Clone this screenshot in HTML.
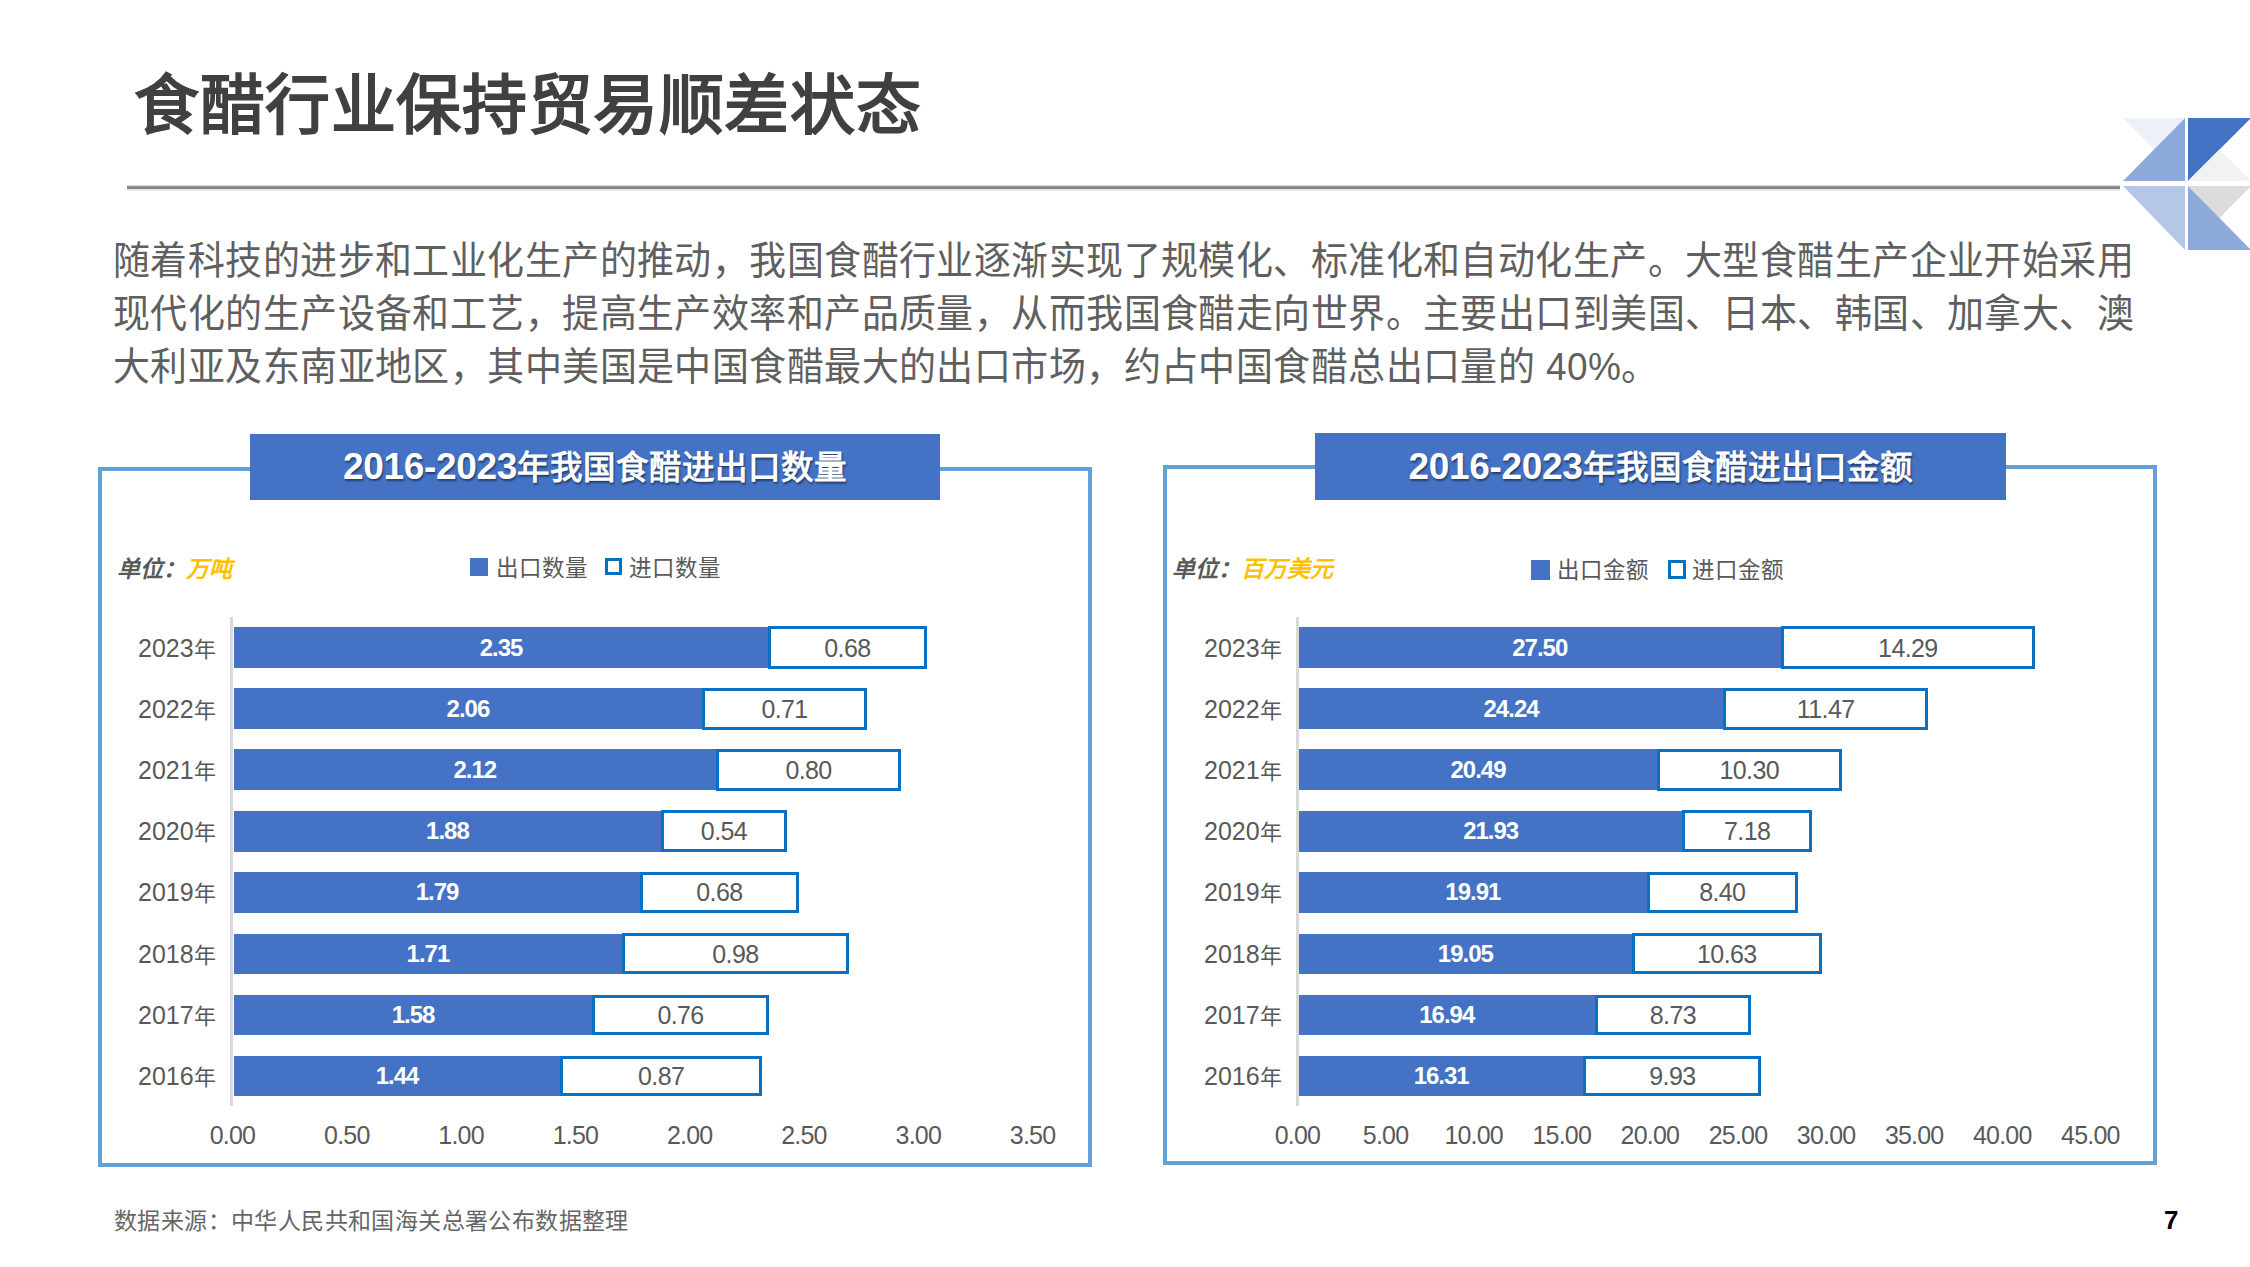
<!DOCTYPE html>
<html lang="zh-CN"><head><meta charset="utf-8"><title>食醋行业保持贸易顺差状态</title>
<style>
html,body{margin:0;padding:0;background:#fff;}
body{width:2250px;height:1267px;position:relative;overflow:hidden;font-family:"Liberation Sans",sans-serif;}
div{position:absolute;box-sizing:border-box;white-space:nowrap;}
.title{left:134px;top:61px;font-size:65px;letter-spacing:0.6px;font-weight:bold;color:#404040;line-height:90px;}
.hr{left:127px;top:185px;width:1993px;height:6px;background:linear-gradient(#d0d0d0 0,#d0d0d0 1px,#a0a0a0 1px,#a0a0a0 2px,#7f7f7f 2px,#7f7f7f 4px,#e8e8e8 4px,#e8e8e8 6px);}
.para{left:113px;top:234px;font-size:37px;letter-spacing:0.43px;line-height:51px;color:#5f5f5f;transform:scaleY(1.045);transform-origin:0 0;}
.frame{border:4px solid #62a0d8;}
.ctitle{background:#4472c4;color:#fff;font-size:32.5px;font-weight:bold;text-align:center;text-shadow:1px 2px 2px rgba(0,0,0,.45);}
.dg{font-size:37px;letter-spacing:-0.3px;}
.unit{font-size:23px;font-style:italic;font-weight:bold;color:#595959;line-height:32px;}
.unit span{color:#ffc000;}
.lsq{width:17px;height:18px;}
.lsq.fill{background:#4472c4;}
.lsq.hollow{border:3px solid #0070c0;background:#fff;}
.ltxt{font-size:22.5px;color:#595959;line-height:32px;}
.axis{width:3px;background:#d9d9d9;}
.bar{background:#4472c4;}
.ibar{background:#fff;border:3px solid #0a70c2;}
.vlab{font-size:25px;line-height:30px;text-align:center;letter-spacing:-0.6px;}
.vlab.w{color:#fff;font-weight:bold;font-size:24px;letter-spacing:-1px;}
.vlab.g{color:#595959;}
.ylab{font-size:25px;line-height:30px;color:#595959;}
.nian{font-size:22px;}
.tick{font-size:25px;line-height:30px;color:#595959;text-align:center;letter-spacing:-0.8px;}
.foot{left:114px;top:1205px;font-size:23px;letter-spacing:0.4px;line-height:32px;color:#666;}
.pnum{left:2164px;top:1204px;font-size:26px;font-weight:bold;color:#000;line-height:32px;}
</style></head><body>
<div class="title">食醋行业保持贸易顺差状态</div>
<div class="hr"></div>
<svg style="position:absolute;left:2120px;top:116px" width="130" height="136" viewBox="2120 116 130 136">
<polygon points="2123,118 2185,118 2154,149" fill="#edf2fa"/>
<polygon points="2185,118 2185,181 2123,181" fill="#8eaadb"/>
<polygon points="2188,118 2251,118 2188,181" fill="#4472c4"/>
<polygon points="2219.5,149.5 2251,181 2188,181" fill="#f2f2f2"/>
<polygon points="2123,186 2185,186 2185,250" fill="#b4c7e7"/>
<polygon points="2188,186 2251,186 2219.5,218" fill="#dcdcdc"/>
<polygon points="2188,186 2251,250 2188,250" fill="#8eaadb"/>
</svg>
<div class="para">随着科技的进步和工业化生产的推动，我国食醋行业逐渐实现了规模化、标准化和自动化生产。大型食醋生产企业开始采用<br>现代化的生产设备和工艺，提高生产效率和产品质量，从而我国食醋走向世界。主要出口到美国、日本、韩国、加拿大、澳<br>大利亚及东南亚地区，其中美国是中国食醋最大的出口市场，约占中国食醋总出口量的 40%。</div>
<div class="frame" style="left:98px;top:467px;width:994px;height:700px"></div>
<div class="ctitle" style="left:250px;top:434px;width:690px;height:66px;line-height:66px"><span class="dg">2016-2023</span>年我国食醋进出口数量</div>
<div class="unit" style="left:117px;top:553px">单位：<span>万吨</span></div>
<div class="lsq fill" style="left:470px;top:558px;width:18px;height:18px"></div>
<div class="ltxt" style="left:496px;top:553px">出口数量</div>
<div class="lsq hollow" style="left:605px;top:558px;width:17px;height:17px"></div>
<div class="ltxt" style="left:629px;top:553px">进口数量</div>
<div class="axis" style="left:230px;top:617px;height:489px"></div>
<div class="bar" style="left:233.5px;top:626.6px;width:536.2px;height:41.7px"></div>
<div class="ibar" style="left:768.2px;top:626.1px;width:158.4px;height:42.7px"></div>
<div class="vlab w" style="left:232.5px;top:632.5px;width:537.2px">2.35</div>
<div class="vlab g" style="left:769.7px;top:632.5px;width:155.4px">0.68</div>
<div class="ylab" style="left:138px;top:632.5px">2023<span class="nian">年</span></div>
<div class="bar" style="left:233.5px;top:688.0px;width:469.9px;height:41.4px"></div>
<div class="ibar" style="left:701.9px;top:687.5px;width:165.3px;height:42.4px"></div>
<div class="vlab w" style="left:232.5px;top:693.7px;width:470.9px">2.06</div>
<div class="vlab g" style="left:703.4px;top:693.7px;width:162.3px">0.71</div>
<div class="ylab" style="left:138px;top:693.7px">2022<span class="nian">年</span></div>
<div class="bar" style="left:233.5px;top:749.4px;width:483.6px;height:41.1px"></div>
<div class="ibar" style="left:715.6px;top:748.9px;width:185.9px;height:42.1px"></div>
<div class="vlab w" style="left:232.5px;top:754.9px;width:484.6px">2.12</div>
<div class="vlab g" style="left:717.1px;top:754.9px;width:182.9px">0.80</div>
<div class="ylab" style="left:138px;top:754.9px">2021<span class="nian">年</span></div>
<div class="bar" style="left:233.5px;top:810.8px;width:428.8px;height:40.8px"></div>
<div class="ibar" style="left:660.8px;top:810.3px;width:126.4px;height:41.8px"></div>
<div class="vlab w" style="left:232.5px;top:816.2px;width:429.8px">1.88</div>
<div class="vlab g" style="left:662.3px;top:816.2px;width:123.4px">0.54</div>
<div class="ylab" style="left:138px;top:816.2px">2020<span class="nian">年</span></div>
<div class="bar" style="left:233.5px;top:872.2px;width:408.2px;height:40.5px"></div>
<div class="ibar" style="left:640.2px;top:871.7px;width:158.4px;height:41.5px"></div>
<div class="vlab w" style="left:232.5px;top:877.4px;width:409.2px">1.79</div>
<div class="vlab g" style="left:641.7px;top:877.4px;width:155.4px">0.68</div>
<div class="ylab" style="left:138px;top:877.4px">2019<span class="nian">年</span></div>
<div class="bar" style="left:233.5px;top:933.6px;width:389.9px;height:40.1px"></div>
<div class="ibar" style="left:621.9px;top:933.1px;width:227.0px;height:41.1px"></div>
<div class="vlab w" style="left:232.5px;top:938.7px;width:390.9px">1.71</div>
<div class="vlab g" style="left:623.4px;top:938.7px;width:224.0px">0.98</div>
<div class="ylab" style="left:138px;top:938.7px">2018<span class="nian">年</span></div>
<div class="bar" style="left:233.5px;top:995.0px;width:360.2px;height:39.8px"></div>
<div class="ibar" style="left:592.2px;top:994.5px;width:176.7px;height:40.8px"></div>
<div class="vlab w" style="left:232.5px;top:999.9px;width:361.2px">1.58</div>
<div class="vlab g" style="left:593.7px;top:999.9px;width:173.7px">0.76</div>
<div class="ylab" style="left:138px;top:999.9px">2017<span class="nian">年</span></div>
<div class="bar" style="left:233.5px;top:1056.4px;width:328.2px;height:39.5px"></div>
<div class="ibar" style="left:560.2px;top:1055.9px;width:201.9px;height:40.5px"></div>
<div class="vlab w" style="left:232.5px;top:1061.2px;width:329.2px">1.44</div>
<div class="vlab g" style="left:561.7px;top:1061.2px;width:198.9px">0.87</div>
<div class="ylab" style="left:138px;top:1061.2px">2016<span class="nian">年</span></div>
<div class="tick" style="left:172.5px;top:1120px;width:120px">0.00</div>
<div class="tick" style="left:286.8px;top:1120px;width:120px">0.50</div>
<div class="tick" style="left:401.1px;top:1120px;width:120px">1.00</div>
<div class="tick" style="left:515.4px;top:1120px;width:120px">1.50</div>
<div class="tick" style="left:629.7px;top:1120px;width:120px">2.00</div>
<div class="tick" style="left:744.0px;top:1120px;width:120px">2.50</div>
<div class="tick" style="left:858.3px;top:1120px;width:120px">3.00</div>
<div class="tick" style="left:972.6px;top:1120px;width:120px">3.50</div>
<div class="frame" style="left:1163px;top:465px;width:994px;height:700px"></div>
<div class="ctitle" style="left:1315px;top:433px;width:691px;height:67px;line-height:67px"><span class="dg">2016-2023</span>年我国食醋进出口金额</div>
<div class="unit" style="left:1172px;top:553px">单位：<span>百万美元</span></div>
<div class="lsq fill" style="left:1531px;top:560px;width:19px;height:20px"></div>
<div class="ltxt" style="left:1557px;top:555px">出口金额</div>
<div class="lsq hollow" style="left:1668px;top:560px;width:18px;height:19px"></div>
<div class="ltxt" style="left:1692px;top:555px">进口金额</div>
<div class="axis" style="left:1296px;top:617px;height:489px"></div>
<div class="bar" style="left:1298.5px;top:626.6px;width:483.5px;height:41.7px"></div>
<div class="ibar" style="left:1780.5px;top:626.1px;width:254.8px;height:42.7px"></div>
<div class="vlab w" style="left:1297.5px;top:632.5px;width:484.5px">27.50</div>
<div class="vlab g" style="left:1782.0px;top:632.5px;width:251.8px">14.29</div>
<div class="ylab" style="left:1204px;top:632.5px">2023<span class="nian">年</span></div>
<div class="bar" style="left:1298.5px;top:688.0px;width:426.1px;height:41.4px"></div>
<div class="ibar" style="left:1723.1px;top:687.5px;width:205.1px;height:42.4px"></div>
<div class="vlab w" style="left:1297.5px;top:693.7px;width:427.1px">24.24</div>
<div class="vlab g" style="left:1724.6px;top:693.7px;width:202.1px">11.47</div>
<div class="ylab" style="left:1204px;top:693.7px">2022<span class="nian">年</span></div>
<div class="bar" style="left:1298.5px;top:749.4px;width:360.0px;height:41.1px"></div>
<div class="ibar" style="left:1657.0px;top:748.9px;width:184.5px;height:42.1px"></div>
<div class="vlab w" style="left:1297.5px;top:754.9px;width:361.0px">20.49</div>
<div class="vlab g" style="left:1658.5px;top:754.9px;width:181.5px">10.30</div>
<div class="ylab" style="left:1204px;top:754.9px">2021<span class="nian">年</span></div>
<div class="bar" style="left:1298.5px;top:810.8px;width:385.4px;height:40.8px"></div>
<div class="ibar" style="left:1682.4px;top:810.3px;width:129.5px;height:41.8px"></div>
<div class="vlab w" style="left:1297.5px;top:816.2px;width:386.4px">21.93</div>
<div class="vlab g" style="left:1683.9px;top:816.2px;width:126.5px">7.18</div>
<div class="ylab" style="left:1204px;top:816.2px">2020<span class="nian">年</span></div>
<div class="bar" style="left:1298.5px;top:872.2px;width:349.8px;height:40.5px"></div>
<div class="ibar" style="left:1646.8px;top:871.7px;width:151.0px;height:41.5px"></div>
<div class="vlab w" style="left:1297.5px;top:877.4px;width:350.8px">19.91</div>
<div class="vlab g" style="left:1648.3px;top:877.4px;width:148.0px">8.40</div>
<div class="ylab" style="left:1204px;top:877.4px">2019<span class="nian">年</span></div>
<div class="bar" style="left:1298.5px;top:933.6px;width:334.7px;height:40.1px"></div>
<div class="ibar" style="left:1631.7px;top:933.1px;width:190.3px;height:41.1px"></div>
<div class="vlab w" style="left:1297.5px;top:938.7px;width:335.7px">19.05</div>
<div class="vlab g" style="left:1633.2px;top:938.7px;width:187.3px">10.63</div>
<div class="ylab" style="left:1204px;top:938.7px">2018<span class="nian">年</span></div>
<div class="bar" style="left:1298.5px;top:995.0px;width:297.5px;height:39.8px"></div>
<div class="ibar" style="left:1594.5px;top:994.5px;width:156.8px;height:40.8px"></div>
<div class="vlab w" style="left:1297.5px;top:999.9px;width:298.5px">16.94</div>
<div class="vlab g" style="left:1596.0px;top:999.9px;width:153.8px">8.73</div>
<div class="ylab" style="left:1204px;top:999.9px">2017<span class="nian">年</span></div>
<div class="bar" style="left:1298.5px;top:1056.4px;width:286.4px;height:39.5px"></div>
<div class="ibar" style="left:1583.4px;top:1055.9px;width:178.0px;height:40.5px"></div>
<div class="vlab w" style="left:1297.5px;top:1061.2px;width:287.4px">16.31</div>
<div class="vlab g" style="left:1584.9px;top:1061.2px;width:175.0px">9.93</div>
<div class="ylab" style="left:1204px;top:1061.2px">2016<span class="nian">年</span></div>
<div class="tick" style="left:1237.5px;top:1120px;width:120px">0.00</div>
<div class="tick" style="left:1325.6px;top:1120px;width:120px">5.00</div>
<div class="tick" style="left:1413.7px;top:1120px;width:120px">10.00</div>
<div class="tick" style="left:1501.8px;top:1120px;width:120px">15.00</div>
<div class="tick" style="left:1589.9px;top:1120px;width:120px">20.00</div>
<div class="tick" style="left:1678.0px;top:1120px;width:120px">25.00</div>
<div class="tick" style="left:1766.1px;top:1120px;width:120px">30.00</div>
<div class="tick" style="left:1854.2px;top:1120px;width:120px">35.00</div>
<div class="tick" style="left:1942.3px;top:1120px;width:120px">40.00</div>
<div class="tick" style="left:2030.4px;top:1120px;width:120px">45.00</div>
<div class="foot">数据来源：中华人民共和国海关总署公布数据整理</div>
<div class="pnum">7</div>
</body></html>
